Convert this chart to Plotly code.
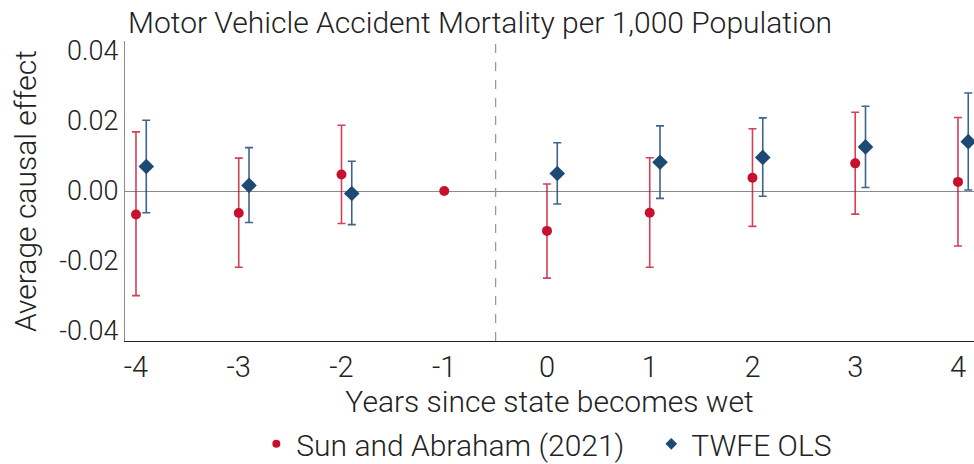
import plotly.graph_objects as go

years = [-4, -3, -2, -1, 0, 1, 2, 3, 4]
tick_labels = ["-4", "-3", "-2", "-1", "0", "1", "2", "3", "4"]

sa_est = [-0.0067, -0.0063, 0.0047, 0.0, -0.0114, -0.0062, 0.0038, 0.0079, 0.0026]
sa_low = [-0.0299, -0.0218, -0.0093, 0.0, -0.0249, -0.0218, -0.0101, -0.0066, -0.0157]
sa_high = [0.0169, 0.0094, 0.0188, 0.0, 0.0020, 0.0095, 0.0178, 0.0225, 0.0210]

tw_years = [-4, -3, -2, 0, 1, 2, 3, 4]
tw_est = [0.0070, 0.0016, -0.0007, 0.0050, 0.0082, 0.0096, 0.0126, 0.0141]
tw_low = [-0.0062, -0.0090, -0.0096, -0.0037, -0.0021, -0.0015, 0.0010, 0.0003]
tw_high = [0.0202, 0.0124, 0.0085, 0.0138, 0.0186, 0.0209, 0.0242, 0.0280]

series_names = ["Sun and Abraham (2021)", "TWFE OLS"]

RED = "#c8102e"
BLUE = "#1c4a74"
FONT = "Roboto"
offset = 0.1
pad = "\u00a0" * 3

fig = go.Figure()
fig.add_trace(go.Scatter(
    x=years, y=sa_est, mode="markers", showlegend=False,
    marker=dict(symbol="circle", size=10, color=RED),
    error_y=dict(type="data", symmetric=False,
                 array=[h - e for h, e in zip(sa_high, sa_est)],
                 arrayminus=[e - l for e, l in zip(sa_est, sa_low)],
                 color="rgba(200,16,46,0.8)", thickness=1.6, width=4),
))
fig.add_trace(go.Scatter(
    x=[y + offset for y in tw_years], y=tw_est, mode="markers", showlegend=False,
    marker=dict(symbol="diamond", size=12, color=BLUE),
    error_y=dict(type="data", symmetric=False,
                 array=[h - e for h, e in zip(tw_high, tw_est)],
                 arrayminus=[e - l for e, l in zip(tw_est, tw_low)],
                 color="rgba(28,74,116,0.85)", thickness=1.6, width=4),
))
fig.add_trace(go.Scatter(x=[None], y=[None], mode="markers", name=series_names[0] + pad,
                         marker=dict(symbol="circle", size=8, color=RED)))
fig.add_trace(go.Scatter(x=[None], y=[None], mode="markers", name=series_names[1],
                         marker=dict(symbol="diamond", size=9, color=BLUE)))

fig.add_vline(x=-0.5, line=dict(color="#999999", width=1.3, dash="dash"))

fig.update_layout(
    width=974, height=464,
    margin=dict(l=125, r=0, t=41, b=123, autoexpand=False),
    paper_bgcolor="white", plot_bgcolor="white",
    font=dict(family=FONT, weight=300, color="#222222"),
    title=dict(text="Motor Vehicle Accident Mortality per 1,000 Population",
               x=128 / 974, xanchor="left", xref="container",
               y=1 - 22 / 464, yanchor="middle", yref="container",
               font=dict(family=FONT, size=30, weight=300, color="#222222")),
    xaxis=dict(range=[-4.107, 4.156], tickvals=years, ticktext=tick_labels,
               showgrid=False, zeroline=False, showline=True, linecolor="#222222",
               linewidth=1.3, ticks="", ticklabelstandoff=0,
               tickfont=dict(size=29, family=FONT, weight=300),
               title=dict(text="Years since state becomes wet", standoff=0,
                          font=dict(size=30, family=FONT, weight=300))),
    yaxis=dict(range=[-0.04286, 0.04286], tickvals=[-0.04, -0.02, 0.0, 0.02, 0.04],
               ticktext=["-0.04", "-0.02", "0.00", "0.02", "0.04"],
               showgrid=False, zeroline=True, zerolinecolor="#8a8a8a", zerolinewidth=1.3,
               showline=True, linecolor="#8a8a8a", linewidth=1.3, ticks="",
               tickfont=dict(size=27, family=FONT, weight=300),
               title=dict(text="Average causal effect", standoff=13,
                          font=dict(size=30, family=FONT, weight=300))),
    legend=dict(orientation="h", x=0.1547, xanchor="left", y=-0.256, yanchor="top",
                itemwidth=30, traceorder="normal",
                font=dict(size=30, family=FONT, weight=300)),
)

fig.write_html("out.html", config={"displayModeBar": False},
               post_script="document.body.style.margin='0';")
